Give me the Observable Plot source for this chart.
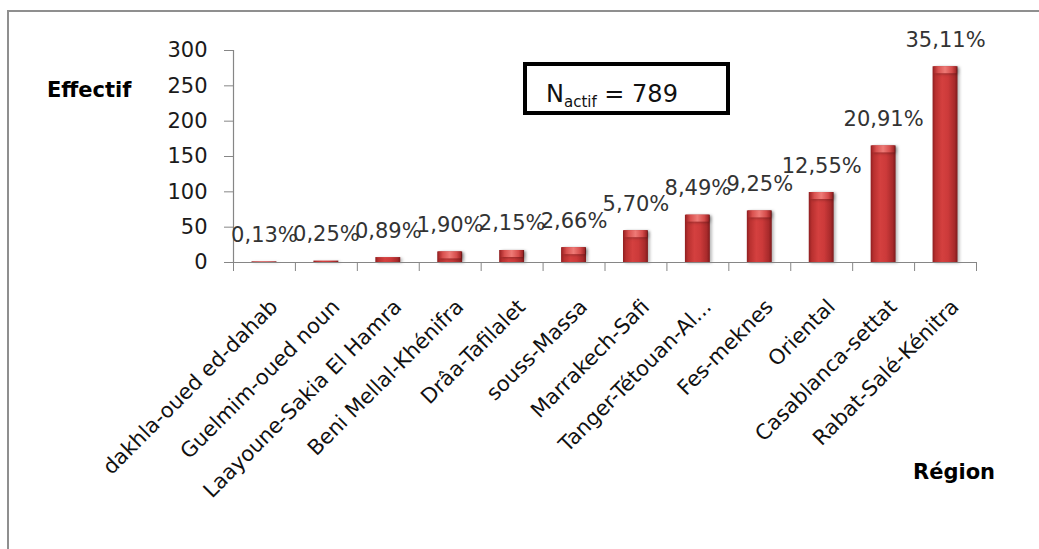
<!DOCTYPE html>
<html>
<head>
<meta charset="utf-8">
<script src="https://cdn.jsdelivr.net/npm/d3@7"></script>
<script src="https://cdn.jsdelivr.net/npm/@observablehq/plot@0.6"></script>
<style>
  html, body { margin: 0; padding: 0; background: #fff; }
  #wrap { position: relative; width: 1039px; height: 549px; overflow: hidden; font-family: "DejaVu Sans", sans-serif; }
  #frame { position: absolute; left: 7px; top: 10px; width: 1100px; height: 600px;
           border-left: 2px solid #8f8f8f; border-top: 2px solid #8f8f8f; }
  #chart { position: absolute; left: 0; top: 0; }
  #chart svg g[aria-label="rect"] { filter: drop-shadow(2px 1px 1.5px rgba(0, 0, 0, 0.28)); }
  .axis-title { position: absolute; font-weight: bold; font-size: 21px; line-height: 21px; color: #000; white-space: nowrap; }
  #ylab { left: 47px; top: 80px; }
  #xlab { left: 913px; top: 462px; }
  #nbox { position: absolute; left: 523px; top: 62px; width: 207px; height: 53px; box-sizing: border-box;
          border: 4px solid #000; font-size: 24px; line-height: 24px; padding: 16px 0 0 19px; color: #111; white-space: nowrap; }
  #nbox sub { font-size: 15px; vertical-align: -5px; }
</style>
</head>
<body>
<div id="wrap">
  <div id="frame"></div>
  <div id="chart"></div>
  <div class="axis-title" id="ylab">Effectif</div>
  <div class="axis-title" id="xlab">Région</div>
  <div id="nbox"></div>
</div>
<script>
// Regions, ordered by number of active respondents
const regions = [
  "dakhla-oued ed-dahab",
  "Guelmim-oued noun",
  "Laayoune-Sakia El Hamra",
  "Beni Mellal-Khénifra",
  "Drâa-Tafilalet",
  "souss-Massa",
  "Marrakech-Safi",
  "Tanger-Tétouan-Al Hoceima",
  "Fes-meknes",
  "Oriental",
  "Casablanca-settat",
  "Rabat-Salé-Kénitra"
];

// Headcount (effectif) per region
const effectifs = [1, 2, 7, 15, 17, 21, 45, 67, 73, 99, 165, 277];

// Y axis tick values
const yTicks = [0, 50, 100, 150, 200, 250, 300];

const total = d3.sum(effectifs);
const pctLabels = effectifs.map(v => (v / total * 100).toFixed(2).replace(".", ",") + "%");

const rows = regions.map((region, i) => ({ i, region, n: effectifs[i], pct: pctLabels[i] }));

// Long names get cut with an ellipsis, as in the category axis
const shortName = s => s.length > 24 ? s.slice(0, 17) + "..." : s;

document.getElementById("nbox").innerHTML = `N<sub>actif</sub> = ${total}`;

// Gradients giving the bars their bevelled, cylindrical look
const defs = () => {
  const g = d3.create("svg:g");
  const d = g.append("defs");
  const bar = d.append("linearGradient").attr("id", "barFill").attr("x1", 0).attr("x2", 1).attr("y1", 0).attr("y2", 0);
  [[0, "#8f1f21"], [0.12, "#b8302f"], [0.38, "#d4403f"], [0.62, "#cc3a3a"], [0.88, "#a82a2b"], [1, "#7e1a1c"]]
    .forEach(([o, c]) => bar.append("stop").attr("offset", o).attr("stop-color", c));
  const bevel = d.append("linearGradient").attr("id", "bevelFill").attr("x1", 0).attr("x2", 1).attr("y1", 0).attr("y2", 0);
  [[0, "#a32627"], [0.2, "#d9514f"], [0.5, "#ee7a76"], [0.8, "#d54c4b"], [1, "#9a2223"]]
    .forEach(([o, c]) => bevel.append("stop").attr("offset", o).attr("stop-color", c));
  return g.node();
};

const axisGray = "#868686";
const inset = 18.5;

const chart = Plot.plot({
  width: 1039,
  height: 549,
  marginLeft: 233,
  marginRight: 63,
  marginTop: 50,
  marginBottom: 287,
  style: { fontFamily: "DejaVu Sans, sans-serif", background: "transparent", overflow: "visible" },
  x: { type: "linear", domain: [0, regions.length], axis: null },
  y: { domain: [0, 300], axis: null },
  marks: [
    defs,
    Plot.ruleX([0], { y1: 0, y2: 300, stroke: axisGray, strokeWidth: 1.2 }),
    Plot.axisY(yTicks, { tickSize: 9, tickPadding: 17, fontSize: 21, fill: "#1a1a1a", stroke: axisGray, label: null }),
    Plot.axisX(d3.range(regions.length + 1), { tickSize: 9, tickFormat: () => "", stroke: axisGray, label: null }),
    Plot.rectY(rows, { x1: "i", x2: d => d.i + 1, y: "n", insetLeft: inset, insetRight: inset, fill: "url(#barFill)" }),
    Plot.rect(rows.filter(d => d.n >= 12), {
      x1: "i", x2: d => d.i + 1, y1: "n", y2: "n",
      insetLeft: inset + 1, insetRight: inset + 1, insetBottom: -7, fill: "url(#bevelFill)"
    }),
    Plot.ruleY([0], { stroke: axisGray, strokeWidth: 1.2 }),
    Plot.text(rows, { x: d => d.i + 0.5, y: "n", text: "pct", lineAnchor: "bottom", dy: -20, fontSize: 21, fill: "#333" }),
    Plot.text(rows, {
      x: d => d.i + 0.5, y: 0, text: d => shortName(d.region),
      rotate: -45, textAnchor: "end", lineAnchor: "top", dx: 4, dy: 35, fontSize: 21, fill: "#111"
    })
  ]
});

document.getElementById("chart").appendChild(chart);
</script>
</body>
</html>
